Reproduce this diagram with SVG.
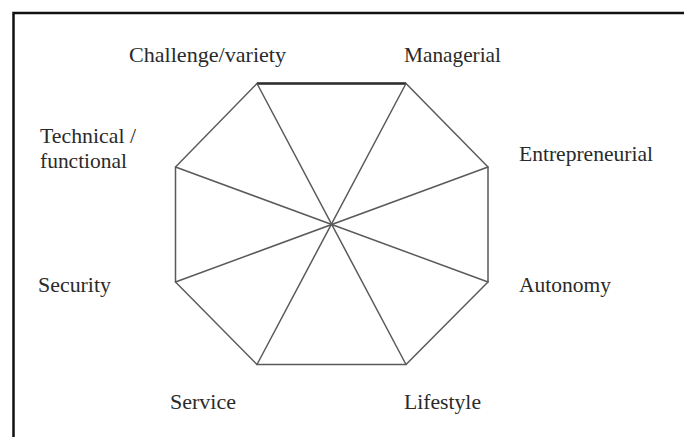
<svg xmlns="http://www.w3.org/2000/svg" width="684" height="437" viewBox="0 0 684 437">
<style>
.lbl{font-family:"Liberation Serif","Times New Roman",serif;font-size:21px;fill:#2a2a2a}
.edge{stroke:#5a5a5a;stroke-width:1.5;fill:none;stroke-linecap:round}
</style>
<rect x="0" y="0" width="684" height="437" fill="#ffffff"/>
<rect x="13.5" y="13" width="690" height="440" fill="none" stroke="#111" stroke-width="2.5"/>
<g id="connectors">
<polygon class="edge" points="257,83.5 406,83.5 488,167 488,282 406,364.5 257,364.5 175.5,282 175.5,167"/>
<line x1="257" y1="83.5" x2="406" y2="83.5" stroke="#2e2e2e" stroke-width="2.6"/>
<line class="edge" x1="257" y1="83.5" x2="406" y2="364.5"/>
<line class="edge" x1="406" y1="83.5" x2="257" y2="364.5"/>
<line class="edge" x1="488" y1="167" x2="175.5" y2="282"/>
<line class="edge" x1="175.5" y1="167" x2="488" y2="282"/>
</g>
<g id="challenge"><text class="lbl" x="129" y="62" textLength="157" lengthAdjust="spacingAndGlyphs">Challenge/variety</text></g>
<g id="managerial"><text class="lbl" x="404" y="62" textLength="97" lengthAdjust="spacingAndGlyphs">Managerial</text></g>
<g id="technical"><text class="lbl" x="40" y="143" textLength="96" lengthAdjust="spacingAndGlyphs">Technical /</text><text class="lbl" x="40" y="168" textLength="87" lengthAdjust="spacingAndGlyphs">functional</text></g>
<g id="entrepreneurial"><text class="lbl" x="519" y="161" textLength="134" lengthAdjust="spacingAndGlyphs">Entrepreneurial</text></g>
<g id="security"><text class="lbl" x="38" y="292" textLength="73" lengthAdjust="spacingAndGlyphs">Security</text></g>
<g id="autonomy"><text class="lbl" x="519" y="292" textLength="92" lengthAdjust="spacingAndGlyphs">Autonomy</text></g>
<g id="service"><text class="lbl" x="170" y="409" textLength="66" lengthAdjust="spacingAndGlyphs">Service</text></g>
<g id="lifestyle"><text class="lbl" x="404" y="409" textLength="77" lengthAdjust="spacingAndGlyphs">Lifestyle</text></g>
</svg>
